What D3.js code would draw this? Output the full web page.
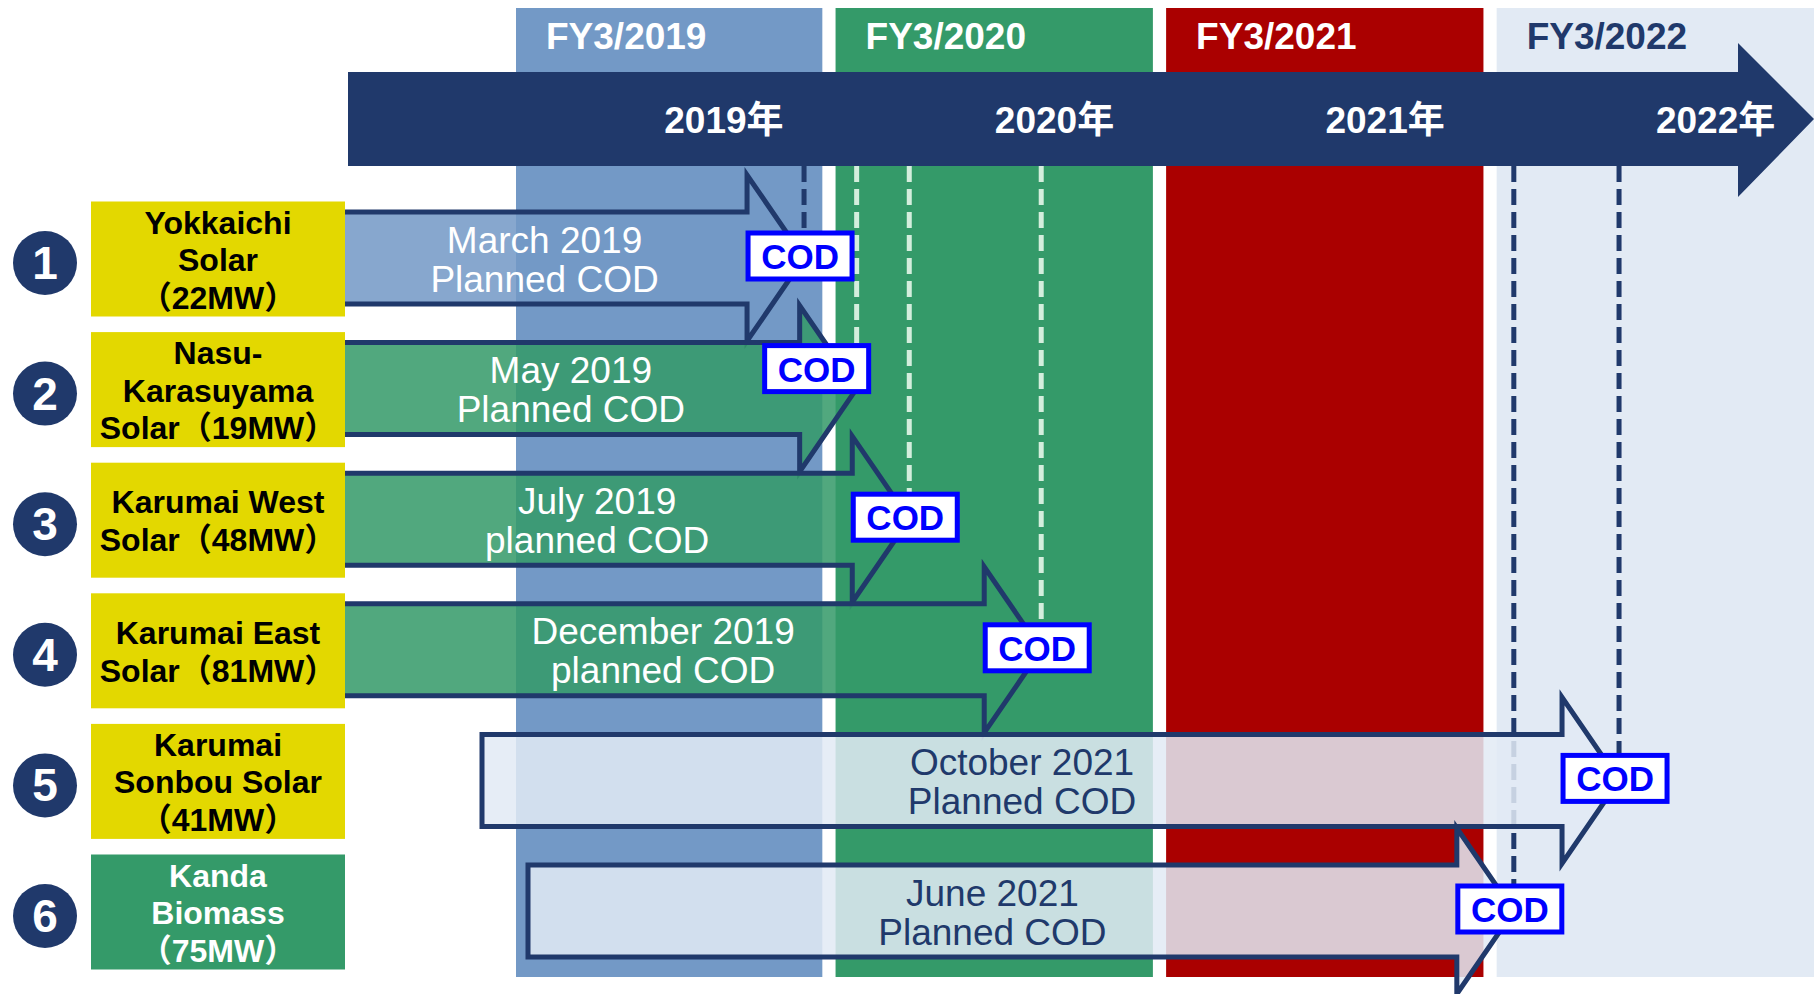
<!DOCTYPE html>
<html>
<head>
<meta charset="utf-8">
<script src="https://cdn.jsdelivr.net/npm/d3@7"></script>
<style>
html, body { margin: 0; padding: 0; background: #fff; }
svg { display: block; font-family: "Liberation Sans", Arial, "Noto Sans CJK JP", sans-serif; }
</style>
</head>
<body>
<svg id="chart" width="1814" height="994"></svg>
<script>
// --- data ---
const fiscalYears = ["FY3/2019", "FY3/2020", "FY3/2021", "FY3/2022"];
const calendarYears = ["2019年", "2020年", "2021年", "2022年"];
const plantIds = [1, 2, 3, 4, 5, 6];
const plantNames = [
    ["Yokkaichi", "Solar", "（22MW）"],
    ["Nasu-", "Karasuyama", "Solar（19MW）"],
    ["Karumai West", "Solar（48MW）"],
    ["Karumai East", "Solar（81MW）"],
    ["Karumai", "Sonbou Solar", "（41MW）"],
    ["Kanda", "Biomass", "（75MW）"]
];
const plantTypes = ["solar", "solar", "solar", "solar", "solar", "biomass"];
const codMonths = ["2019-03", "2019-05", "2019-07", "2019-12", "2021-10", "2021-06"];
const codLabels = [
    ["March 2019", "Planned COD"],
    ["May 2019", "Planned COD"],
    ["July 2019", "planned COD"],
    ["December 2019", "planned COD"],
    ["October 2021", "Planned COD"],
    ["June 2021", "Planned COD"]
];

// --- styles ---
const navy = "#20396b";
const fyColor = { "FY3/2019": "#7399c6", "FY3/2020": "#349a69", "FY3/2021": "#aa0000", "FY3/2022": "#e2eaf4" };
const fyTextColor = { "FY3/2019": "#fff", "FY3/2020": "#fff", "FY3/2021": "#fff", "FY3/2022": navy };
const fyDashColor = { "FY3/2019": navy, "FY3/2020": "#d4eedd", "FY3/2021": navy, "FY3/2022": navy };
const typeColor = { solar: "#e3d800", biomass: "#349a69" };
const typeText = { solar: "#000", biomass: "#fff" };
// planned arrows start further right than the name boxes
const arrowIndent = { 5: 140, 6: 186 };
// badge 2 is nudged up-left so it clears the next arrow head
const badgeNudge = { 2: [-36, -18] };

const parseMonth = d3.timeParse("%Y-%m");
const fyOf = d => "FY3/" + (d.getMonth() >= 3 ? d.getFullYear() + 1 : d.getFullYear());

const rows = plantIds.map((id, i) => {
    const cod = parseMonth(codMonths[i]);
    return { id, names: plantNames[i], type: plantTypes[i], cod, fy: fyOf(cod), labels: codLabels[i] };
});

const svg = d3.select("#chart");

const x = d3.scaleTime().domain([new Date(2018, 3, 1), new Date(2022, 3, 1)]).range([516, 1776]);
const fyBand = d3.scaleBand().domain(fiscalYears).range([505, 1814]).paddingInner(0.04).paddingOuter(0);
const y = d3.scalePoint().domain(plantIds).range([258, 911]);

const plotLeft = x.range()[0];
const boxLeft = 91, boxWidth = 254, boxHeight = 115;
const boxRight = boxLeft + boxWidth;
const bodyHalf = 46, headHalf = 83, headLen = 57;
const codW = 104, codH = 46;

const badgePos = d => {
    const n = badgeNudge[d.id] || [0, 0];
    return [x(d.cod) - 4 + n[0], y(d.id) - 2 + n[1]];
};

svg.append("clipPath").attr("id", "plot-clip")
    .append("rect").attr("x", plotLeft).attr("y", 0).attr("width", 1814 - plotLeft).attr("height", 994);

// fiscal year columns
svg.append("g").attr("clip-path", "url(#plot-clip)")
    .selectAll("rect").data(fiscalYears).join("rect")
    .attr("x", d => fyBand(d)).attr("y", 8)
    .attr("width", fyBand.bandwidth()).attr("height", 969)
    .attr("fill", d => fyColor[d]);

svg.append("g").selectAll("text").data(fiscalYears).join("text")
    .attr("x", d => Math.max(fyBand(d), plotLeft) + 30)
    .attr("y", 49)
    .attr("font-size", 37).attr("font-weight", "bold")
    .attr("fill", d => fyTextColor[d])
    .text(d => d);

// COD guide lines
svg.append("g").selectAll("line").data(rows).join("line")
    .attr("x1", d => x(d.cod)).attr("x2", d => x(d.cod))
    .attr("y1", 166).attr("y2", d => badgePos(d)[1] - codH / 2)
    .attr("stroke", d => fyDashColor[d.fy])
    .attr("stroke-width", 5)
    .attr("stroke-dasharray", "16,7");

// timeline arrow
const tl = d3.path();
tl.moveTo(348, 72);
tl.lineTo(1738, 72);
tl.lineTo(1738, 43);
tl.lineTo(1814, 119);
tl.lineTo(1738, 197);
tl.lineTo(1738, 166);
tl.lineTo(348, 166);
tl.closePath();
svg.append("path").attr("d", tl.toString()).attr("fill", navy);

svg.append("g").selectAll("text").data(calendarYears).join("text")
    .attr("x", (d, i) => fyBand(fiscalYears[i]) + fyBand.bandwidth() * 0.69)
    .attr("y", 133)
    .attr("text-anchor", "middle")
    .attr("font-size", 37).attr("font-weight", "bold")
    .attr("fill", "#fff")
    .text(d => d);

// COD arrows
function arrowPath(sx, tip, yc) {
    const hx = tip - headLen;
    const p = d3.path();
    p.moveTo(sx, yc - bodyHalf);
    p.lineTo(hx, yc - bodyHalf);
    p.lineTo(hx, yc - headHalf);
    p.lineTo(tip, yc);
    p.lineTo(hx, yc + headHalf);
    p.lineTo(hx, yc + bodyHalf);
    p.lineTo(sx, yc + bodyHalf);
    p.closePath();
    return p.toString();
}

const arrowG = svg.append("g").selectAll("g").data(rows).join("g");

arrowG.append("path")
    .attr("d", d => arrowPath(boxRight - 3 + (arrowIndent[d.id] || 0), x(d.cod), y(d.id)))
    .attr("fill", d => fyColor[d.fy])
    .attr("fill-opacity", 0.86)
    .attr("stroke", navy)
    .attr("stroke-width", 5);

arrowG.each(function(d) {
    const sx = boxRight - 3 + (arrowIndent[d.id] || 0);
    const cx = (sx + x(d.cod) - headLen) / 2;
    d3.select(this).selectAll("text.cod-label").data(d.labels).join("text")
        .attr("class", "cod-label")
        .attr("x", cx)
        .attr("y", (t, i) => y(d.id) + (i - 0.5) * 39 + 14)
        .attr("text-anchor", "middle")
        .attr("font-size", 37)
        .attr("fill", fyTextColor[d.fy])
        .text(t => t);
});

// COD badges
const codG = svg.append("g").selectAll("g").data(rows).join("g")
    .attr("transform", d => `translate(${badgePos(d)})`);
codG.append("rect")
    .attr("x", -codW / 2).attr("y", -codH / 2)
    .attr("width", codW).attr("height", codH)
    .attr("fill", "#fff").attr("stroke", "#0000ff").attr("stroke-width", 5);
codG.append("text")
    .attr("y", 13)
    .attr("text-anchor", "middle")
    .attr("font-size", 35).attr("font-weight", "bold")
    .attr("fill", "#0000ff")
    .text("COD");

// plant name boxes
const nameG = svg.append("g").selectAll("g").data(rows).join("g");
nameG.append("rect")
    .attr("x", boxLeft).attr("y", d => y(d.id) - boxHeight / 2 + 1)
    .attr("width", boxWidth).attr("height", boxHeight)
    .attr("fill", d => typeColor[d.type]);
nameG.each(function(d) {
    const n = d.names.length;
    d3.select(this).selectAll("text").data(d.names).join("text")
        .attr("x", boxLeft + boxWidth / 2)
        .attr("y", (t, i) => y(d.id) + (i - (n - 1) / 2) * 37.5 + 13)
        .attr("text-anchor", "middle")
        .attr("font-size", 32).attr("font-weight", "bold")
        .attr("fill", typeText[d.type])
        .text(t => t);
});

// numbered circles
nameG.append("circle")
    .attr("cx", 45).attr("cy", d => y(d.id) + 5).attr("r", 32)
    .attr("fill", navy);
nameG.append("text")
    .attr("x", 45).attr("y", d => y(d.id) + 21)
    .attr("text-anchor", "middle")
    .attr("font-size", 46).attr("font-weight", "bold")
    .attr("fill", "#fff")
    .text(d => d.id);
</script>
</body>
</html>
